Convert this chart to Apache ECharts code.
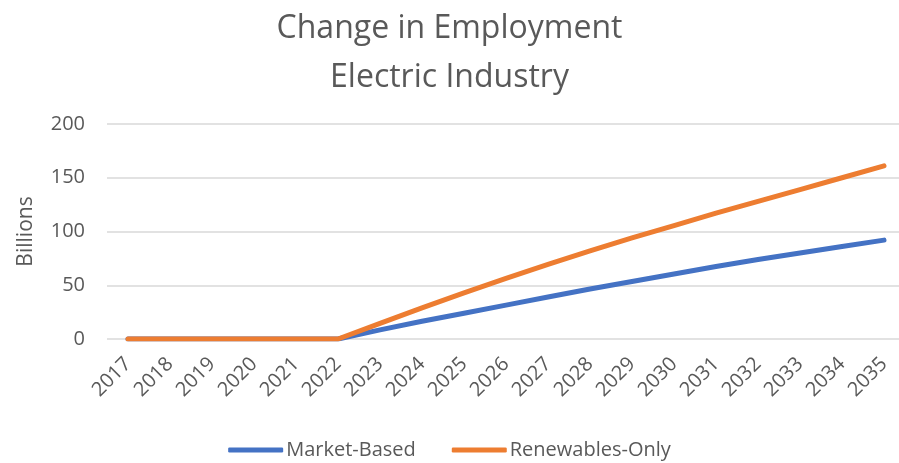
<!DOCTYPE html>
<html>
<head>
<meta charset="utf-8">
<script src="https://cdn.jsdelivr.net/npm/echarts@6/dist/echarts.min.js"></script>
<style>
  html, body { margin: 0; padding: 0; background: #fff; }
  #chart { width: 899px; height: 463px; }
</style>
</head>
<body>
<div id="chart"></div>
<script>
// Employment change by scenario, billions
const years = ['2017','2018','2019','2020','2021','2022','2023','2024','2025','2026',
               '2027','2028','2029','2030','2031','2032','2033','2034','2035'];
const marketBased = [0, 0, 0, 0, 0, 0, 8.5, 16.5, 24, 31.5, 39, 46.5, 53.5, 60.5, 67.5, 74, 80, 86, 92];
const renewablesOnly = [0, 0, 0, 0, 0, 0, 14.5, 29, 43, 56.5, 69.5, 82, 94, 105.5, 117, 128, 139, 150, 161];
const yTicks = { min: 0, max: 200, interval: 50 };

const FONT = '"Open Sans", "Liberation Sans", sans-serif';
const TEXT = '#595959';
const GRID_LINE = '#d9d9d9';

const chart = echarts.init(document.getElementById('chart'));
chart.setOption({
  animation: false,
  title: {
    text: 'Change in Employment\nElectric Industry',
    left: 'center',
    top: -1,
    textStyle: { fontFamily: FONT, fontSize: 32, fontWeight: 'normal', color: TEXT, lineHeight: 49 }
  },
  legend: {
    bottom: -2,
    left: 'center',
    itemWidth: 55,
    itemHeight: 5,
    itemGap: 36,
    icon: 'roundRect',
    textStyle: { fontFamily: FONT, fontSize: 20, color: TEXT, padding: [0, 0, 0, -2] },
    data: ['Market-Based', 'Renewables-Only']
  },
  // grid 0 holds the lines (points sit on the category ticks),
  // grid 1 is the wider frame that carries the value axis and its gridlines
  grid: [
    { left: 128, right: 15, top: 124, bottom: 124 },
    { left: 107, right: 0, top: 124, bottom: 124 }
  ],
  xAxis: [
    {
      gridIndex: 0,
      type: 'category',
      data: years,
      boundaryGap: false,
      axisLine: { show: false },
      axisTick: { show: false },
      splitLine: { show: false },
      axisLabel: { rotate: 45, fontFamily: FONT, fontSize: 20, color: TEXT, margin: 22, interval: 0 }
    },
    {
      gridIndex: 1,
      type: 'category',
      data: years,
      show: false
    }
  ],
  yAxis: [
    {
      gridIndex: 0,
      type: 'value',
      min: yTicks.min,
      max: yTicks.max,
      interval: yTicks.interval,
      show: false,
      splitLine: { show: false }
    },
    {
      gridIndex: 1,
      type: 'value',
      min: yTicks.min,
      max: yTicks.max,
      interval: yTicks.interval,
      name: 'Billions',
      nameLocation: 'middle',
      nameGap: 70,
      nameTextStyle: { fontFamily: FONT, fontSize: 21, color: TEXT },
      axisLine: { show: false },
      axisTick: { show: false },
      axisLabel: { fontFamily: FONT, fontSize: 20, color: TEXT, margin: 22 },
      splitLine: { lineStyle: { color: GRID_LINE, width: 1.5 } }
    }
  ],
  series: [
    {
      name: 'Market-Based',
      type: 'line',
      xAxisIndex: 0,
      yAxisIndex: 0,
      data: marketBased,
      symbol: 'none',
      color: '#4472C4',
      lineStyle: { width: 5, cap: 'round', join: 'round' }
    },
    {
      name: 'Renewables-Only',
      type: 'line',
      xAxisIndex: 0,
      yAxisIndex: 0,
      data: renewablesOnly,
      symbol: 'none',
      color: '#ED7D31',
      lineStyle: { width: 5, cap: 'round', join: 'round' }
    }
  ]
});
</script>
</body>
</html>
